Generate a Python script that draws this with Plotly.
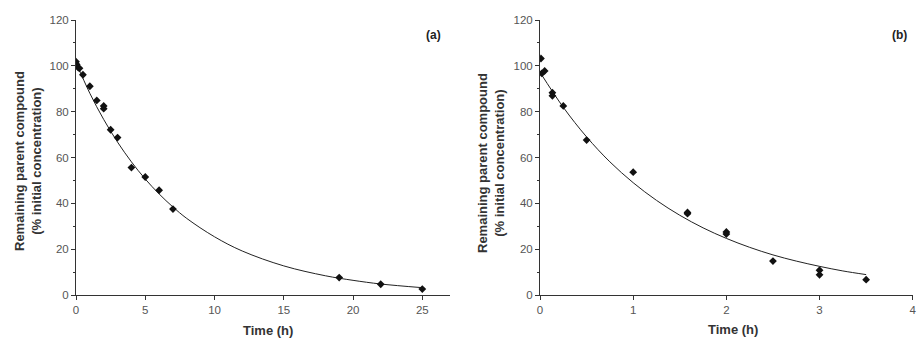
import plotly.graph_objects as go

# Panel (a) data
a_time = [0, 0.05, 0.17, 0.25, 0.5, 1.0, 1.5, 2.0, 2.0, 2.5, 3.0, 4.0, 5.0, 6.0, 7.0, 19.0, 22.0, 25.0]
a_remain = [101.8, 100.6, 99.2, 98.9, 96.1, 91.1, 84.9, 82.5, 81.3, 72.1, 68.7, 55.6, 51.5, 45.7, 37.5, 7.6, 4.7, 2.6]
a_fit_time = [0, 1, 2, 3, 4, 5, 6, 7, 8, 10, 12, 15, 18, 20, 22, 25]
a_fit_remain = [101.5, 88.0, 76.6, 66.7, 58.1, 50.6, 44.1, 38.4, 33.4, 25.4, 19.2, 12.7, 8.4, 6.4, 4.8, 3.2]

# Panel (b) data
b_time = [0.01, 0.02, 0.05, 0.133, 0.133, 0.25, 0.5, 1.0, 1.583, 1.583, 2.0, 2.0, 2.5, 3.0, 3.0, 3.5]
b_remain = [103.2, 96.7, 97.8, 88.3, 86.9, 82.5, 67.6, 53.6, 36.0, 35.5, 27.5, 26.6, 14.8, 10.8, 8.8, 6.7]
b_fit_time = [0, 0.25, 0.5, 0.75, 1.0, 1.25, 1.5, 1.75, 2.0, 2.25, 2.5, 2.75, 3.0, 3.25, 3.5]
b_fit_remain = [97.2, 81.9, 69.0, 58.1, 49.0, 41.3, 34.8, 29.3, 24.7, 20.8, 17.5, 14.8, 12.5, 10.5, 8.9]

panel_labels = ["(a)", "(b)"]
y_title = "Remaining parent compound<br>(% initial concentration)"
x_title = "Time (h)"
y_ticks = [0, 20, 40, 60, 80, 100, 120]
a_x_ticks = [0, 5, 10, 15, 20, 25]
b_x_ticks = [0, 1, 2, 3, 4]

FONT = "Liberation Sans, Arial, sans-serif"
TICK_COLOR = "#555555"
TITLE_COLOR = "#333333"

fig = go.Figure()

fig.add_trace(go.Scatter(x=a_fit_time, y=a_fit_remain, mode="lines", line=dict(color="#222222", width=1, shape="spline"),
                         xaxis="x", yaxis="y", showlegend=False, hoverinfo="skip"))
fig.add_trace(go.Scatter(x=a_time, y=a_remain, mode="markers", marker=dict(symbol="diamond", size=6, color="#111111"),
                         xaxis="x", yaxis="y", showlegend=False))
fig.add_trace(go.Scatter(x=b_fit_time, y=b_fit_remain, mode="lines", line=dict(color="#222222", width=1, shape="spline"),
                         xaxis="x2", yaxis="y2", showlegend=False, hoverinfo="skip"))
fig.add_trace(go.Scatter(x=b_time, y=b_remain, mode="markers", marker=dict(symbol="diamond", size=6, color="#111111"),
                         xaxis="x2", yaxis="y2", showlegend=False))

W, H = 917, 338


def px(x):
    return x / W


def py(y):
    return 1 - y / H


ya_dom = [py(295), py(20)]

axis_common = dict(
    showline=True, linecolor="#333333", linewidth=1, showgrid=False, zeroline=False,
    ticks="outside", ticklen=4, tickcolor="#333333", tickwidth=1, automargin=False,
    ticklabeloverflow="allow",
    tickfont=dict(family=FONT, size=11.5, color=TICK_COLOR),
)
minor_y = dict(dtick=10, ticks="outside", ticklen=2, tickcolor="#333333", tickwidth=1)

title_font = dict(family=FONT, size=13, color=TITLE_COLOR)

fig.update_layout(
    width=W, height=H,
    margin=dict(l=0, r=0, t=0, b=0),
    paper_bgcolor="white", plot_bgcolor="white",
    font=dict(family=FONT),
    xaxis=dict(axis_common, domain=[px(76), px(450)], range=[0, 27], tickvals=a_x_ticks, anchor="y"),
    yaxis=dict(axis_common, domain=ya_dom, range=[0, 120], tickvals=y_ticks, minor=minor_y, anchor="x"),
    xaxis2=dict(axis_common, domain=[px(540), px(913)], range=[0, 4.003], tickvals=b_x_ticks, anchor="y2"),
    yaxis2=dict(axis_common, domain=ya_dom, range=[0, 120], tickvals=y_ticks, minor=minor_y, anchor="x2"),
    annotations=[
        dict(text="<b>%s</b>" % panel_labels[0], xref="x", yref="y", x=26.5, y=113.5, showarrow=False,
             xanchor="right", font=dict(family=FONT, size=12, color="#222222")),
        dict(text="<b>%s</b>" % panel_labels[1], xref="x2", yref="y2", x=3.96, y=113.5, showarrow=False,
             xanchor="right", font=dict(family=FONT, size=12, color="#222222")),
        dict(text="<b>%s</b>" % y_title, xref="paper", yref="paper", x=px(28), y=py(161),
             textangle=-90, showarrow=False, xanchor="center", yanchor="middle", font=title_font),
        dict(text="<b>%s</b>" % y_title, xref="paper", yref="paper", x=px(491), y=py(163),
             textangle=-90, showarrow=False, xanchor="center", yanchor="middle", font=title_font),
        dict(text="<b>%s</b>" % x_title, xref="paper", yref="paper", x=px(268), y=py(330),
             showarrow=False, xanchor="center", yanchor="middle", font=title_font),
        dict(text="<b>%s</b>" % x_title, xref="paper", yref="paper", x=px(733), y=py(329),
             showarrow=False, xanchor="center", yanchor="middle", font=title_font),
    ],
)

fig.write_html("out.html", config={"displayModeBar": False},
               post_script="document.body.style.margin='0px';document.body.style.overflow='hidden';")
